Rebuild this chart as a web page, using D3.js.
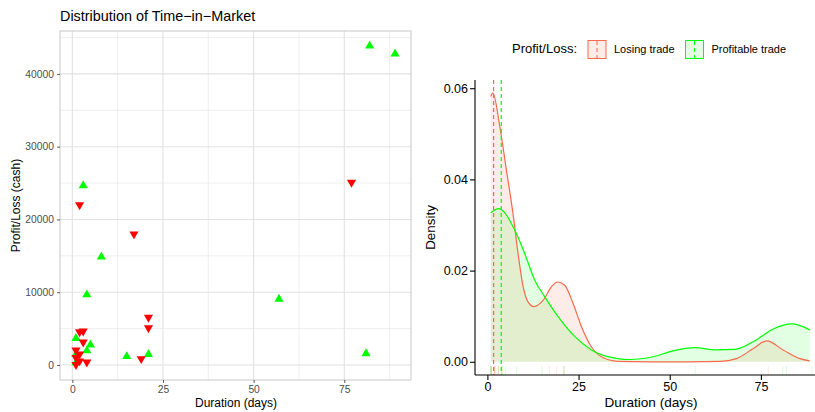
<!DOCTYPE html>
<html><head><meta charset="utf-8">
<script src="https://cdn.jsdelivr.net/npm/d3@7"></script>
<style>body{margin:0;background:#fff}svg{display:block;font-family:"Liberation Sans",Arial,sans-serif}</style>
</head><body><svg id="c" width="815" height="412"></svg>
<script>
// ---- data ----
const profitDur = [82, 89, 3, 8, 4, 57, 81, 21, 15, 1, 5, 4, 1, 1];
const profitVal = [44000, 42900, 24800, 15000, 9800, 9200, 1700, 1600, 1300, 3800, 2900, 2100, 1600, 450];
const lossDur = [77, 2, 17, 21, 21, 2, 3, 3, 1, 2, 1, 2, 1, 4, 19];
const lossVal = [24950, 21850, 17850, 6400, 4950, 4400, 4500, 3000, 1900, 1350, 850, 400, -100, 250, 700];

const lossDensX = [0.9, 1.5, 3.4, 5.2, 7.0, 8.4, 9.8, 11.1, 12.8, 15.3, 17.6, 19.2, 21.2, 23.5, 25.8, 28.5, 31.3, 35.8, 45, 55, 63.7, 68.3, 72.9, 76.6, 81.1, 85.7, 88.4];
const lossDensY = [0.0582, 0.0589, 0.0516, 0.0421, 0.0326, 0.0238, 0.0165, 0.0132, 0.0121, 0.0135, 0.0165, 0.0175, 0.0168, 0.0128, 0.0077, 0.0033, 0.0011, 0.0001, 0, 0, 0.0001, 0.0007, 0.0029, 0.0046, 0.0026, 0.0007, 0.0002];
const profitDensX = [0.9, 3.1, 7.5, 10.2, 13.0, 15.7, 19.4, 24.0, 28.5, 35.8, 39, 45.4, 50.9, 56.9, 62.8, 67.9, 72.9, 78.4, 83.4, 88.4];
const profitDensY = [0.0327, 0.0336, 0.0289, 0.0238, 0.0179, 0.0143, 0.0099, 0.0055, 0.0026, 0.0007, 0.0005, 0.0011, 0.0024, 0.0031, 0.0026, 0.0027, 0.0044, 0.0072, 0.0083, 0.0070];
const centerLines = [1.7, 3.8]; // losing, profitable

const xTicks = [0, 25, 50, 75];
const xMinor = [12.5, 37.5, 62.5, 87.5];
const yTicksL = [0, 10000, 20000, 30000, 40000];
const yMinorL = [5000, 15000, 25000, 35000, 45000];
const yTicksR = [0, 0.02, 0.04, 0.06];
const legendLabels = ["Losing trade", "Profitable trade"];

const RED = "#FF0000", GREEN = "#00FF00", LRED = "#F7694B", LGREEN = "#00FF00";

const svg = d3.select("#c");

// ---------- Left panel ----------
const L = {x0: 60, x1: 411, y0: 31, y1: 380};
const xL = d3.scaleLinear().domain([-3.4, 93.4]).range([L.x0, L.x1]);
const yL = d3.scaleLinear().domain([-2070, 45900]).range([L.y1, L.y0]);
const gL = svg.append("g");
gL.append("rect").attr("x", L.x0).attr("y", L.y0).attr("width", L.x1 - L.x0).attr("height", L.y1 - L.y0).attr("fill", "#fff");
xMinor.forEach(v => gL.append("line").attr("x1", xL(v)).attr("x2", xL(v)).attr("y1", L.y0).attr("y2", L.y1).attr("stroke", "#EBEBEB").attr("stroke-width", 0.8));
yMinorL.forEach(v => gL.append("line").attr("y1", yL(v)).attr("y2", yL(v)).attr("x1", L.x0).attr("x2", L.x1).attr("stroke", "#EBEBEB").attr("stroke-width", 0.8));
xTicks.forEach(v => gL.append("line").attr("x1", xL(v)).attr("x2", xL(v)).attr("y1", L.y0).attr("y2", L.y1).attr("stroke", "#E2E2E2").attr("stroke-width", 1.1));
yTicksL.forEach(v => gL.append("line").attr("y1", yL(v)).attr("y2", yL(v)).attr("x1", L.x0).attr("x2", L.x1).attr("stroke", "#E2E2E2").attr("stroke-width", 1.1));
gL.append("rect").attr("x", L.x0).attr("y", L.y0).attr("width", L.x1 - L.x0).attr("height", L.y1 - L.y0).attr("fill", "none").attr("stroke", "#C8C8C8").attr("stroke-width", 1);

const axXL = gL.append("g").attr("transform", `translate(0,${L.y1})`).call(d3.axisBottom(xL).tickValues(xTicks).tickSize(3).tickPadding(3).tickFormat(d3.format("d")));
const axYL = gL.append("g").attr("transform", `translate(${L.x0},0)`).call(d3.axisLeft(yL).tickValues(yTicksL).tickSize(3).tickPadding(3).tickFormat(d3.format("d")));
[axXL, axYL].forEach(a => {
  a.select(".domain").remove();
  a.selectAll(".tick line").attr("stroke", "#333").attr("stroke-width", 0.8);
  a.selectAll("text").attr("fill", "#4D4D4D").attr("font-size", "10.3px").attr("font-family", "Liberation Sans, Arial, sans-serif");
});

const triUp = d3.symbol().type(d3.symbolTriangle).size(36);
profitDur.forEach((d, i) => gL.append("path").attr("d", triUp()).attr("fill", GREEN)
  .attr("transform", `translate(${xL(d)},${yL(profitVal[i]) + 1})`));
lossDur.forEach((d, i) => gL.append("path").attr("d", triUp()).attr("fill", RED)
  .attr("transform", `translate(${xL(d)},${yL(lossVal[i]) - 1}) rotate(180)`));

svg.append("text").attr("x", 60).attr("y", 21).attr("font-size", "14.4px").attr("fill", "#000").text("Distribution of Time\u2212in\u2212Market");
svg.append("text").attr("x", 236).attr("y", 407).attr("text-anchor", "middle").attr("font-size", "12px").text("Duration (days)");
svg.append("text").attr("transform", `translate(20,${(L.y0 + L.y1) / 2}) rotate(-90)`).attr("text-anchor", "middle").attr("font-size", "12px").text("Profit/Loss (cash)");

// ---------- Right panel ----------
const R = {x0: 475, x1: 828, y0: 80, y1: 375};
const xR = d3.scaleLinear().domain([-3.4, 93.4]).range([R.x0, R.x1]);
const yR = d3.scaleLinear().domain([-0.0029, 0.0618]).range([R.y1, R.y0]);
const gR = svg.append("g");

const lossPts = lossDensX.map((x, i) => [x, lossDensY[i]]);
const profitPts = profitDensX.map((x, i) => [x, profitDensY[i]]);
const area = d3.area().x(d => xR(d[0])).y0(yR(0)).y1(d => yR(d[1])).curve(d3.curveMonotoneX);
const line = d3.line().x(d => xR(d[0])).y(d => yR(d[1])).curve(d3.curveMonotoneX);

gR.append("path").attr("d", area(lossPts)).attr("fill", LRED).attr("fill-opacity", 0.13);
gR.append("path").attr("d", area(profitPts)).attr("fill", LGREEN).attr("fill-opacity", 0.11);
gR.append("path").attr("d", line(lossPts)).attr("fill", "none").attr("stroke", LRED).attr("stroke-width", 1.2);
gR.append("path").attr("d", line(profitPts)).attr("fill", "none").attr("stroke", LGREEN).attr("stroke-width", 1.2);

[[centerLines[0], LRED], [centerLines[1], LGREEN]].forEach(([v, c]) =>
  gR.append("line").attr("x1", xR(v)).attr("x2", xR(v)).attr("y1", R.y0).attr("y2", R.y1)
    .attr("stroke", c).attr("stroke-width", 1.2).attr("stroke-dasharray", "4,3"));

// rug
const rugLen = 9;
lossDur.forEach(d => gR.append("line").attr("x1", xR(d)).attr("x2", xR(d)).attr("y1", R.y1 - rugLen).attr("y2", R.y1).attr("stroke", LRED).attr("stroke-opacity", 0.15));
profitDur.forEach(d => gR.append("line").attr("x1", xR(d)).attr("x2", xR(d)).attr("y1", R.y1 - rugLen).attr("y2", R.y1).attr("stroke", LGREEN).attr("stroke-opacity", 0.15));

const axXR = gR.append("g").attr("transform", `translate(0,${R.y1})`).call(d3.axisBottom(xR).tickValues(xTicks).tickSize(5).tickPadding(2).tickFormat(d3.format("d")));
const axYR = gR.append("g").attr("transform", `translate(${R.x0},0)`).call(d3.axisLeft(yR).tickValues(yTicksR).tickSize(5).tickPadding(2).tickFormat(d3.format(".2f")));
[axXR, axYR].forEach(a => {
  a.select(".domain").attr("stroke", "#000").attr("stroke-width", 1.1);
  a.selectAll(".tick line").attr("stroke", "#000").attr("stroke-width", 1.1);
  a.selectAll("text").attr("fill", "#000").attr("font-size", "12.5px").attr("font-family", "Liberation Sans, Arial, sans-serif");
});
axXR.select(".domain").attr("d", `M${R.x0},0H${R.x1}`);
axYR.select(".domain").attr("d", `M0,${R.y0}V${R.y1}`);

svg.append("text").attr("x", 651).attr("y", 407).attr("text-anchor", "middle").attr("font-size", "13.6px").text("Duration (days)");
svg.append("text").attr("transform", `translate(435,${(R.y0 + R.y1) / 2}) rotate(-90)`).attr("text-anchor", "middle").attr("font-size", "13.4px").text("Density");

// legend
const lg = svg.append("g");
lg.append("text").attr("x", 512).attr("y", 53).attr("font-size", "13px").text("Profit/Loss:");
const keys = [{x: 588, c: LRED, op: 0.13}, {x: 685.5, c: LGREEN, op: 0.11}];
keys.forEach((k, i) => {
  lg.append("rect").attr("x", k.x).attr("y", 40.5).attr("width", 18).attr("height", 18).attr("fill", "#fff");
  lg.append("rect").attr("x", k.x).attr("y", 40.5).attr("width", 18).attr("height", 18)
    .attr("fill", k.c).attr("fill-opacity", k.op).attr("stroke", k.c).attr("stroke-width", 1);
  lg.append("line").attr("x1", k.x + 9).attr("x2", k.x + 9).attr("y1", 41).attr("y2", 58)
    .attr("stroke", k.c).attr("stroke-width", 1).attr("stroke-dasharray", "4,3");
  lg.append("text").attr("x", k.x + 26).attr("y", 53).attr("font-size", "11px").text(legendLabels[i]);
});
</script></body></html>
